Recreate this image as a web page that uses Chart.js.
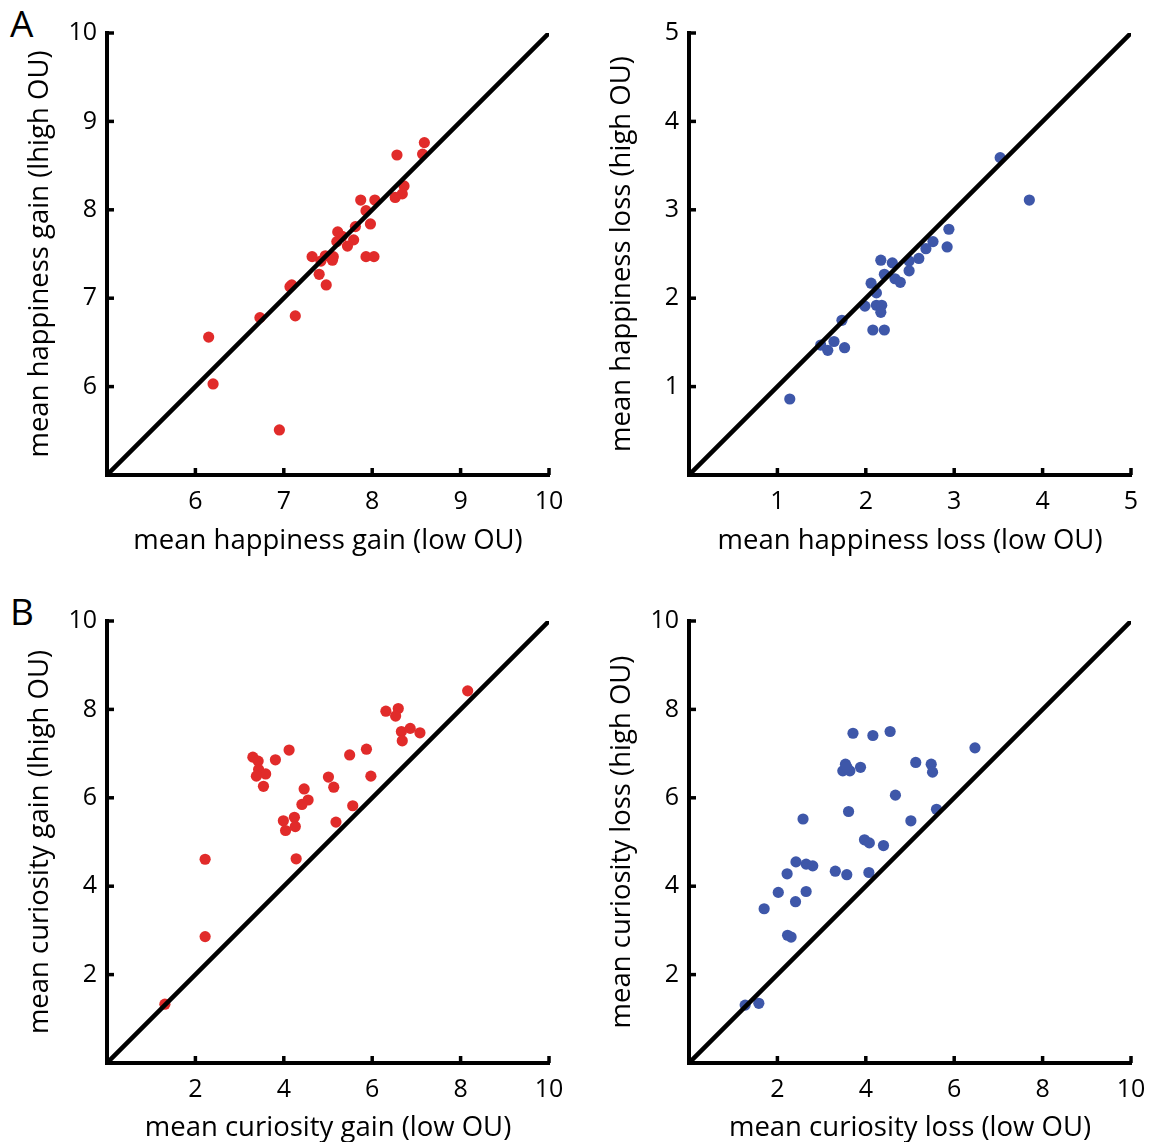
<!doctype html>
<html lang="en">
  <head>
    <meta charset="utf-8">
    <title>Gain / loss by OU</title>
    <script src="https://cdn.jsdelivr.net/npm/chart.js"></script>
    <style>
      body { margin: 0; background: #fff; }
      #page { position: relative; width: 1163px; height: 1142px; overflow: hidden; font-family: 'Open Sans', sans-serif; }
      canvas { position: absolute; }
      .panel-label { position: absolute; font-size: 37px; line-height: 1; color: #000; }
    </style>
  </head>
  <body>
    <div id="page">
      <div class="panel-label" style="left:10px;top:4px;">A</div>
      <div class="panel-label" style="left:10px;top:592px;">B</div>
      <canvas id="happyGain" width="581" height="571" style="left:0;top:0;"></canvas>
      <canvas id="happyLoss" width="581" height="571" style="left:582px;top:0;"></canvas>
      <canvas id="curioGain" width="581" height="571" style="left:0;top:571px;"></canvas>
      <canvas id="curioLoss" width="581" height="571" style="left:582px;top:571px;"></canvas>
    </div>
  </body>
</html>

<script>
    // happiness gain: low OU (x) vs high OU (y)
    var happyGainLow  = [8.59, 8.57, 8.28, 8.36, 8.34, 8.26, 7.87, 8.03, 7.93, 7.98, 7.81, 7.61, 7.66, 7.60, 7.79, 7.72,
                         7.93, 8.02, 7.32, 7.47, 7.56, 7.55, 7.42, 7.40, 7.48, 7.09, 7.07, 7.13, 6.73, 6.15, 6.20, 6.95];
    var happyGainHigh = [8.76, 8.63, 8.62, 8.27, 8.18, 8.14, 8.11, 8.11, 7.99, 7.84, 7.81, 7.75, 7.70, 7.64, 7.66, 7.59,
                         7.47, 7.47, 7.47, 7.48, 7.47, 7.43, 7.42, 7.27, 7.15, 7.15, 7.13, 6.80, 6.78, 6.56, 6.03, 5.51];

    // happiness loss
    var happyLossLow  = [3.52, 3.85, 2.94, 2.92, 2.76, 2.68, 2.60, 2.49, 2.49, 2.30, 2.17, 2.21, 2.33, 2.39,
                         2.06, 2.12, 1.99, 2.12, 2.18, 2.17, 2.08, 2.21, 1.73, 1.49, 1.64, 1.57, 1.76, 1.14];
    var happyLossHigh = [3.59, 3.11, 2.78, 2.58, 2.64, 2.56, 2.45, 2.42, 2.31, 2.40, 2.43, 2.27, 2.22, 2.18,
                         2.17, 2.06, 1.91, 1.92, 1.92, 1.84, 1.64, 1.64, 1.75, 1.47, 1.51, 1.41, 1.44, 0.86];

    // curiosity gain
    var curioGainLow  = [8.16, 6.31, 6.59, 6.53, 6.66, 6.86, 7.08, 6.68, 4.12, 5.87, 5.49, 3.30, 3.42, 3.81, 3.43, 3.59, 3.38,
                         3.54, 5.97, 5.01, 5.13, 4.46, 4.55, 4.41, 5.56, 3.99, 4.24, 4.26, 4.04, 5.18, 4.28, 2.22, 2.22, 1.31];
    var curioGainHigh = [8.42, 7.96, 8.02, 7.85, 7.50, 7.57, 7.47, 7.29, 7.08, 7.10, 6.97, 6.92, 6.83, 6.86, 6.64, 6.54, 6.49,
                         6.26, 6.49, 6.47, 6.24, 6.20, 5.95, 5.85, 5.82, 5.48, 5.56, 5.35, 5.26, 5.45, 4.62, 4.61, 2.86, 1.33];

    // curiosity loss
    var curioLossLow  = [3.71, 4.16, 4.55, 6.47, 3.54, 3.48, 3.64, 3.57, 3.88, 5.13, 5.48, 5.51, 4.67, 5.60, 3.61, 2.58, 5.02, 3.97,
                         4.08, 4.40, 2.42, 2.65, 2.80, 2.22, 3.31, 3.57, 4.07, 2.02, 2.65, 2.41, 1.70, 2.23, 2.31, 1.27, 1.58];
    var curioLossHigh = [7.46, 7.41, 7.50, 7.13, 6.76, 6.61, 6.61, 6.70, 6.69, 6.80, 6.76, 6.58, 6.06, 5.74, 5.69, 5.52, 5.48, 5.05,
                         4.98, 4.92, 4.55, 4.50, 4.46, 4.28, 4.34, 4.26, 4.31, 3.86, 3.88, 3.65, 3.49, 2.89, 2.85, 1.31, 1.35];

    var happyGainRange = [5, 10];
    var happyLossRange = [0, 5];
    var curioRange = [0, 10];

    var RED = "#e12b2a";
    var BLUE = "#3e57a9";

    Chart.defaults.font.family = "'Open Sans', sans-serif";
    Chart.defaults.font.size = 25;
    Chart.defaults.color = "#000";

    // short inward tick marks on both axes
    var inwardTicks = {
      id: "inwardTicks",
      afterDraw: function (chart) {
        var ctx = chart.ctx;
        var area = chart.chartArea;
        ctx.save();
        ctx.strokeStyle = "#000";
        ctx.lineWidth = 3.5;
        var xs = chart.scales.x;
        xs.ticks.forEach(function (t) {
          if (t.value === xs.min) return;
          var px = xs.getPixelForValue(t.value);
          ctx.beginPath();
          ctx.moveTo(px, area.bottom);
          ctx.lineTo(px, area.bottom - 7);
          ctx.stroke();
        });
        var ys = chart.scales.y;
        ys.ticks.forEach(function (t) {
          if (t.value === ys.min) return;
          var py = ys.getPixelForValue(t.value);
          ctx.beginPath();
          ctx.moveTo(area.left, py);
          ctx.lineTo(area.left + 7, py);
          ctx.stroke();
        });
        ctx.restore();
      },
    };

    function makePanel(canvasId, lowVals, highVals, range, step, color, xTitle, yTitle, top) {
      var points = lowVals.map(function (v, i) { return {x: v, y: highVals[i]}; });
      var hideMin = function (value) { return value === range[0] ? "" : value; };
      var axisHeight = top ? 96 : 79;
      var titleFont = {size: 27.5, lineHeight: 1};
      return new Chart(document.getElementById(canvasId), {
        type: "scatter",
        data: {
          datasets: [
            {
              type: "line",
              data: [{x: range[0], y: range[0]}, {x: range[1], y: range[1]}],
              borderColor: "#000",
              borderWidth: 4.5,
              pointRadius: 0,
              order: 0,
            },
            {
              data: points,
              backgroundColor: color,
              borderWidth: 0,
              pointRadius: 5.6,
              order: 1,
            },
          ],
        },
        plugins: [inwardTicks],
        options: {
          responsive: false,
          animation: false,
          layout: {padding: {left: 0, right: 32, top: top ? 33 : 50, bottom: 0}},
          plugins: {legend: {display: false}, tooltip: {enabled: false}},
          scales: {
            x: {
              type: "linear",
              min: range[0],
              max: range[1],
              ticks: {stepSize: step, padding: 12, callback: hideMin, maxRotation: 0},
              grid: {display: true, drawOnChartArea: false, drawTicks: false},
              border: {display: true, color: "#000", width: 4},
              title: {display: true, text: xTitle, font: titleFont, padding: {top: 0, bottom: top ? 16 : 0}},
              afterFit: function (scale) { scale.height = axisHeight; },
            },
            y: {
              type: "linear",
              min: range[0],
              max: range[1],
              ticks: {stepSize: step, padding: 10, callback: hideMin},
              grid: {display: true, drawOnChartArea: false, drawTicks: false},
              border: {display: true, color: "#000", width: 4},
              title: {display: true, text: yTitle, font: titleFont, padding: {top: 26, bottom: 0}},
              afterFit: function (scale) { scale.width = 107; },
            },
          },
        },
      });
    }

    makePanel("happyGain", happyGainLow, happyGainHigh, happyGainRange, 1, RED,
      "mean happiness gain (low OU)", "mean happiness gain (lhigh OU)", true);
    makePanel("happyLoss", happyLossLow, happyLossHigh, happyLossRange, 1, BLUE,
      "mean happiness loss (low OU)", "mean happiness loss (high OU)", true);
    makePanel("curioGain", curioGainLow, curioGainHigh, curioRange, 2, RED,
      "mean curiosity gain (low OU)", "mean curiosity gain (lhigh OU)", false);
    makePanel("curioLoss", curioLossLow, curioLossHigh, curioRange, 2, BLUE,
      "mean curiosity loss (low OU)", "mean curiosity loss (high OU)", false);
</script>
